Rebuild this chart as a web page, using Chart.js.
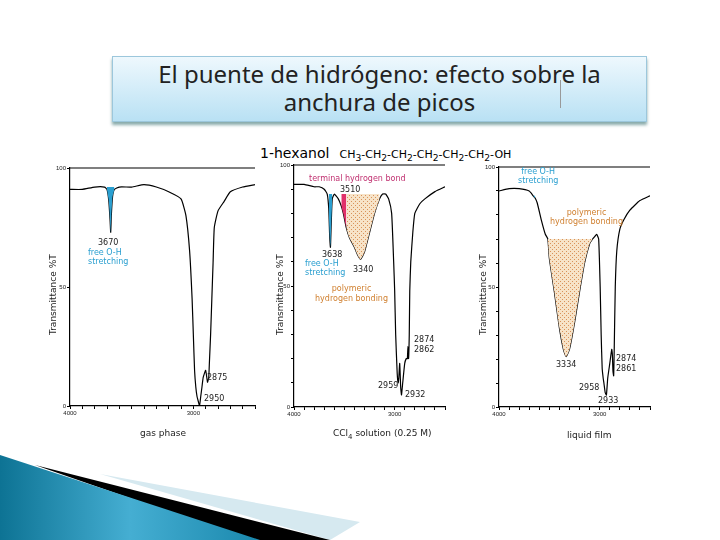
<!DOCTYPE html>
<html><head><meta charset="utf-8">
<script src="https://cdn.jsdelivr.net/npm/chart.js@4"></script>
<style>
body{margin:0;width:720px;height:540px;background:#fff;position:relative;overflow:hidden;font-family:"DejaVu Sans",sans-serif}
.abs{position:absolute}
#title{left:112px;top:56px;width:535px;height:66px;background:linear-gradient(#eef8fd,#b9e1f4);border:1px solid #9cc7dc;box-shadow:0 3px 3px #8aa;text-align:center;font-family:"Noto Sans",sans-serif;font-size:24px;line-height:28px;color:#222;padding-top:3px;box-sizing:border-box;white-space:nowrap}
.t{font-size:8px;color:#222;white-space:nowrap;font-family:"DejaVu Sans",sans-serif}
.c{color:#2a9fd0}.r{color:#c03070}.o{color:#d08030}
.ax{font-size:9px;color:#222;white-space:nowrap}
.yt{transform:rotate(-90deg);transform-origin:left top}
canvas{position:absolute}
</style></head><body>
<div id="title" class="abs">El puente de hidrógeno: efecto sobre la<br>anchura de picos</div>
<div class="abs" style="left:560px;top:80px;width:1px;height:28px;background:#999"></div>
<svg class="abs" style="left:0;top:440px" width="720" height="100">
<defs><linearGradient id="bg" x1="0" y1="0" x2="1" y2="0"><stop offset="0" stop-color="#0d7394"/><stop offset="0.5" stop-color="#45aed2"/><stop offset="1" stop-color="#1a88ad"/></linearGradient></defs>
<polygon points="100,34 360,82 330,100" fill="#d6e9f0"/>
<polygon points="35,25 330,100 250,100" fill="#000"/>
<polygon points="0,15 260,100 0,100" fill="url(#bg)"/>
</svg>
<div class="abs" style="left:260px;top:143px;white-space:nowrap;font-family:'DejaVu Sans'"><span style="font-size:14px">1-hexanol</span>&nbsp; <span style="font-size:11px">CH<sub>3</sub>-CH<sub>2</sub>-CH<sub>2</sub>-CH<sub>2</sub>-CH<sub>2</sub>-CH<sub>2</sub>-OH</span></div>
<canvas id="c1" style="left:40px;top:160px"></canvas>
<canvas id="c2" style="left:265px;top:155px"></canvas>
<canvas id="c3" style="left:470px;top:155px"></canvas>
<div class="abs ax yt" style="left:48px;top:335px">Transmittance %T</div>
<div class="abs ax yt" style="left:275px;top:335px">Transmittance %T</div>
<div class="abs ax yt" style="left:478px;top:335px">Transmittance %T</div>
<div class="abs ax" style="left:140px;top:428px">gas phase</div>
<div class="abs ax" style="left:333px;top:428px">CCl<sub style="font-size:7px">4</sub> solution (0.25 M)</div>
<div class="abs ax" style="left:567px;top:430px">liquid film</div>
<div class="abs t" style="left:98px;top:238px">3670</div>
<div class="abs t c" style="left:88px;top:248px;line-height:9px">free O-H<br>stretching</div>
<div class="abs t" style="left:207px;top:373px">2875</div>
<div class="abs t" style="left:204px;top:394px">2950</div>
<div class="abs t r" style="left:309px;top:174px">terminal hydrogen bond</div>
<div class="abs t" style="left:340px;top:185px">3510</div>
<div class="abs t" style="left:322px;top:250px">3638</div>
<div class="abs t c" style="left:305px;top:259px;line-height:9px">free O-H<br>stretching</div>
<div class="abs t" style="left:353px;top:265px">3340</div>
<div class="abs t o" style="left:315px;top:284px;line-height:10px;text-align:center">polymeric<br>hydrogen bonding</div>
<div class="abs t" style="left:414px;top:335px;line-height:10px">2874<br>2862</div>
<div class="abs t" style="left:378px;top:381px">2959</div>
<div class="abs t" style="left:405px;top:390px">2932</div>
<div class="abs t c" style="left:518px;top:167px;line-height:9px;text-align:center">free O-H<br>stretching</div>
<div class="abs t o" style="left:550px;top:208px;line-height:9px;text-align:center">polymeric<br>hydrogen bonding</div>
<div class="abs t" style="left:556px;top:360px">3334</div>
<div class="abs t" style="left:616px;top:354px;line-height:10px">2874<br>2861</div>
<div class="abs t" style="left:579px;top:383px">2958</div>
<div class="abs t" style="left:598px;top:396px">2933</div>
<script>
// gas phase
const gasX=[4000,3900,3800,3720,3700,3685,3675,3670,3665,3655,3640,3600,3500,3400,3300,3200,3100,3060,3030,3010,3000,2990,2980,2970,2960,2950,2940,2930,2920,2900,2885,2875,2870,2860,2850,2840,2830,2800,2750,2700,2600,2500];
const gasY=[91,91,92,92,91,86,78,73,80,88,91,92,92,93,92,90,87,80,65,45,30,15,8,4,2,0,4,8,12,15,10,12,18,30,45,60,75,82,86,90,92,93];
const gasFreeX=[3700,3685,3675,3670,3665,3655,3640];
// CCl4 solution
const solX=[4000,3900,3800,3750,3700,3670,3655,3645,3638,3630,3620,3600,3560,3530,3510,3480,3450,3400,3370,3340,3300,3250,3200,3150,3120,3090,3060,3030,3010,3000,2990,2975,2965,2959,2950,2940,2932,2920,2900,2885,2874,2868,2862,2855,2850,2840,2820,2800,2750,2700,2600,2500];
const solY=[92,92,91,91,90,88,82,70,66,76,86,88,86,83,80,74,70,66,63,61,64,72,80,86,88,88,86,80,60,48,30,14,10,12,18,8,5,10,18,20,20,25,20,30,48,60,72,80,84,86,89,91];
const solFreeX=[3660,3655,3645,3638,3630,3620];
const solTermX=[3530,3510,3480];
const solPolyX=[3480,3450,3400,3370,3340,3300,3250,3200,3150];
// liquid film
const liqX=[4000,3900,3800,3700,3660,3640,3620,3580,3540,3515,3500,3450,3400,3360,3334,3300,3250,3200,3150,3100,3070,3050,3030,3010,2995,2985,2975,2965,2958,2945,2933,2920,2900,2880,2874,2868,2861,2855,2845,2830,2800,2760,2700,2600,2500];
const liqY=[90,91,91,90,88,87,85,78,72,70,62,48,33,24,21,24,35,48,60,68,70,71,72,70,50,30,16,12,10,6,5,12,18,24,22,15,13,25,50,65,74,78,82,86,88];
const liqFreeX=[3660,3640,3625];
const liqPolyX=[3515,3500,3450,3400,3360,3334,3300,3250,3200,3150,3100,3070];
const yTicks=[0,50,100];

function pts(xs,ys){return xs.map((x,i)=>({x,y:ys[i]}));}
function sub(xs,ys,sel){return pts(xs,ys).filter(p=>sel.includes(p.x));}
function hatch(){const c=document.createElement('canvas');c.width=4;c.height=4;const g=c.getContext('2d');
g.fillStyle='#f7e3c8';g.fillRect(0,0,4,4);g.fillStyle='#d8925a';g.fillRect(0,0,1,1);g.fillRect(2,2,1,1);
return g.createPattern(c,'repeat');}
function make(id,w,h,yW,xH,pad,xs,ys,fills,yMinor){
  const cv=document.getElementById(id);cv.width=w;cv.height=h;cv.style.width=w+'px';cv.style.height=h+'px';
  const ds=fills.map(f=>({data:sub(xs,ys,f.x),borderWidth:0,pointRadius:0,backgroundColor:f.c,fill:{value:f.v},tension:0.2}));
  ds.push({data:pts(xs,ys),borderColor:'#000',borderWidth:1.2,pointRadius:0,fill:false,tension:0.15});
  new Chart(cv,{type:'line',data:{datasets:ds},options:{responsive:false,animation:false,
    layout:{padding:pad},plugins:{legend:{display:false},tooltip:{enabled:false}},
    scales:{
      x:{type:'linear',min:2500,max:4000,reverse:true,
        afterFit:s=>{s.height=xH},
        afterBuildTicks:s=>{const t=[];for(let v=4000;v>=2500;v-=100)t.push({value:v});s.ticks=t;},
        ticks:{autoSkip:false,maxRotation:0,font:{size:6},color:'#222',padding:1,callback:v=>(v===4000||v===3000)?String(v):''},
        grid:{drawOnChartArea:false,tickLength:3,color:'#000'},border:{color:'#000',width:1.2}},
      y:{min:0,max:100,
        afterFit:s=>{s.width=yW},
        afterBuildTicks:s=>{const t=[];for(let v=0;v<=100;v+=(yMinor?10:50))t.push({value:v});s.ticks=t;},
        ticks:{autoSkip:false,font:{size:6},color:'#222',padding:1,callback:v=>yTicks.includes(v)?String(v):''},
        grid:{drawOnChartArea:false,tickLength:3,color:'#000'},border:{color:'#000',width:1.2}}
    }},
    plugins:[{id:'top',afterDraw(c){const a=c.chartArea,g=c.ctx;g.save();g.strokeStyle='#000';g.lineWidth=1.2;g.beginPath();g.moveTo(a.left,a.top);g.lineTo(a.right,a.top);g.stroke();g.restore();}}]
  });
}
const H=hatch();
make('c1',225,270,30,24,{top:8,right:10},gasX,gasY,[{x:gasFreeX,v:92,c:'#2a9fd0'}],false);
make('c2',185,270,29,18,{top:10,right:5},solX,solY,[{x:solFreeX,v:88,c:'#2a9fd0'},{x:solTermX,v:88,c:'#e0306a'},{x:solPolyX,v:88,c:H}],true);
make('c3',185,270,29,18,{top:12,right:5},liqX,liqY,[{x:liqFreeX,v:88,c:'#2a9fd0'},{x:liqPolyX,v:70,c:H}],true);
</script>
</body></html>
